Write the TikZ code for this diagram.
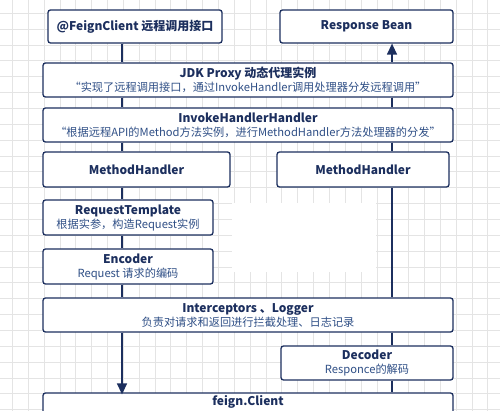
\documentclass[tikz,border=0pt]{standalone}
\usepackage{fontspec}
\setmainfont{Noto Sans CJK SC}
\usetikzlibrary{arrows.meta}
\definecolor{navy}{HTML}{1C2F5E}
\definecolor{navyl}{HTML}{2F4F86}
\definecolor{gridc}{HTML}{E4E4E4}
\newcommand\boxtitle[1]{{\fontsize{12}{14}\selectfont\bfseries\color{navy}#1}}
\begin{document}
\begin{tikzpicture}[x=1pt,y=-1pt,
  box/.style={draw=navy, line width=1.3pt, fill=white, rounded corners=2.5pt,
    inner sep=0pt, align=center, font=\fontsize{11.2}{14}\selectfont, text=navyl},
  conn/.style={draw=navy, line width=1.4pt},
  tip/.style={-{Triangle[width=10pt,length=11pt]}}]
\useasboundingbox (0,0) rectangle (500,411);
\fill[white] (0,0) rectangle (500,411);
% grid
\foreach \i in {0,...,32} {
  \draw[gridc, line width=0.7pt] ({-3.55+15.85*\i},0) -- ({-3.55+15.85*\i},411);
}
\foreach \j in {0,...,27} {
  \draw[gridc, line width=0.7pt] (0,{-2.55+15.85*\j}) -- (500,{-2.55+15.85*\j});
}
\fill[white] (232,203) rectangle (376,272);
% column coordinates
\coordinate (L) at (122,0);
\coordinate (R) at (392,0);
% boxes
\node[box, minimum width=174pt, minimum height=33pt] (fc) at (135,26.5) {\boxtitle{@FeignClient 远程调用接口}};
\node[box, minimum width=173pt, minimum height=33pt] (rb) at (366.5,26.5) {\boxtitle{Response Bean}};
\node[box, minimum width=410pt, minimum height=34pt] (jdk) at (248,80) {\boxtitle{JDK Proxy 动态代理实例}\\“实现了远程调用接口，通过InvokeHandler调用处理器分发远程调用”};
\node[box, minimum width=410pt, minimum height=34pt] (ihh) at (248,125) {\boxtitle{InvokeHandlerHandler}\\“根据远程API的Method方法实例，进行MethodHandler方法处理器的分发”};
\node[box, minimum width=187pt, minimum height=35pt] (mhl) at (136.5,169.5) {\boxtitle{MethodHandler}};
\node[box, minimum width=172pt, minimum height=35pt] (mhr) at (363,169.5) {\boxtitle{MethodHandler}};
\node[box, minimum width=170pt, minimum height=35pt] (rt) at (128,217.5) {\boxtitle{RequestTemplate}\\根据实参，构造Request实例};
\node[box, minimum width=170pt, minimum height=35pt] (enc) at (128,266.5) {\boxtitle{Encoder}\\Request 请求的编码};
\node[box, minimum width=410pt, minimum height=34pt] (icp) at (248,315) {\boxtitle{Interceptors 、Logger}\\负责对请求和返回进行拦截处理、日志记录};
\node[box, minimum width=172pt, minimum height=34pt] (dec) at (367,363) {\boxtitle{Decoder}\\Responce的解码};
\node[box, minimum width=410pt, minimum height=33pt] (cli) at (248,409.5) {\boxtitle{feign.Client}\\\strut};
% left column (downward)
\draw[conn] (L |- fc.south) -- (L |- jdk.north);
\draw[conn] (L |- jdk.south) -- (L |- ihh.north);
\draw[conn] (L |- ihh.south) -- (L |- mhl.north);
\draw[conn] (L |- mhl.south) -- (L |- rt.north);
\draw[conn] (L |- rt.south) -- (L |- enc.north);
\draw[conn] (L |- enc.south) -- (L |- icp.north);
\draw[conn, tip] (L |- icp.south) -- ([yshift=-2pt]L |- cli.north);
% right column (upward)
\draw[conn] (R |- cli.north) -- (R |- dec.south);
\draw[conn] (R |- dec.north) -- (R |- icp.south);
\draw[conn] (R |- icp.north) -- (R |- mhr.south);
\draw[conn] (R |- mhr.north) -- (R |- ihh.south);
\draw[conn] (R |- ihh.north) -- (R |- jdk.south);
\draw[conn, tip] (R |- jdk.north) -- (R |- rb.south);
\end{tikzpicture}
\end{document}
